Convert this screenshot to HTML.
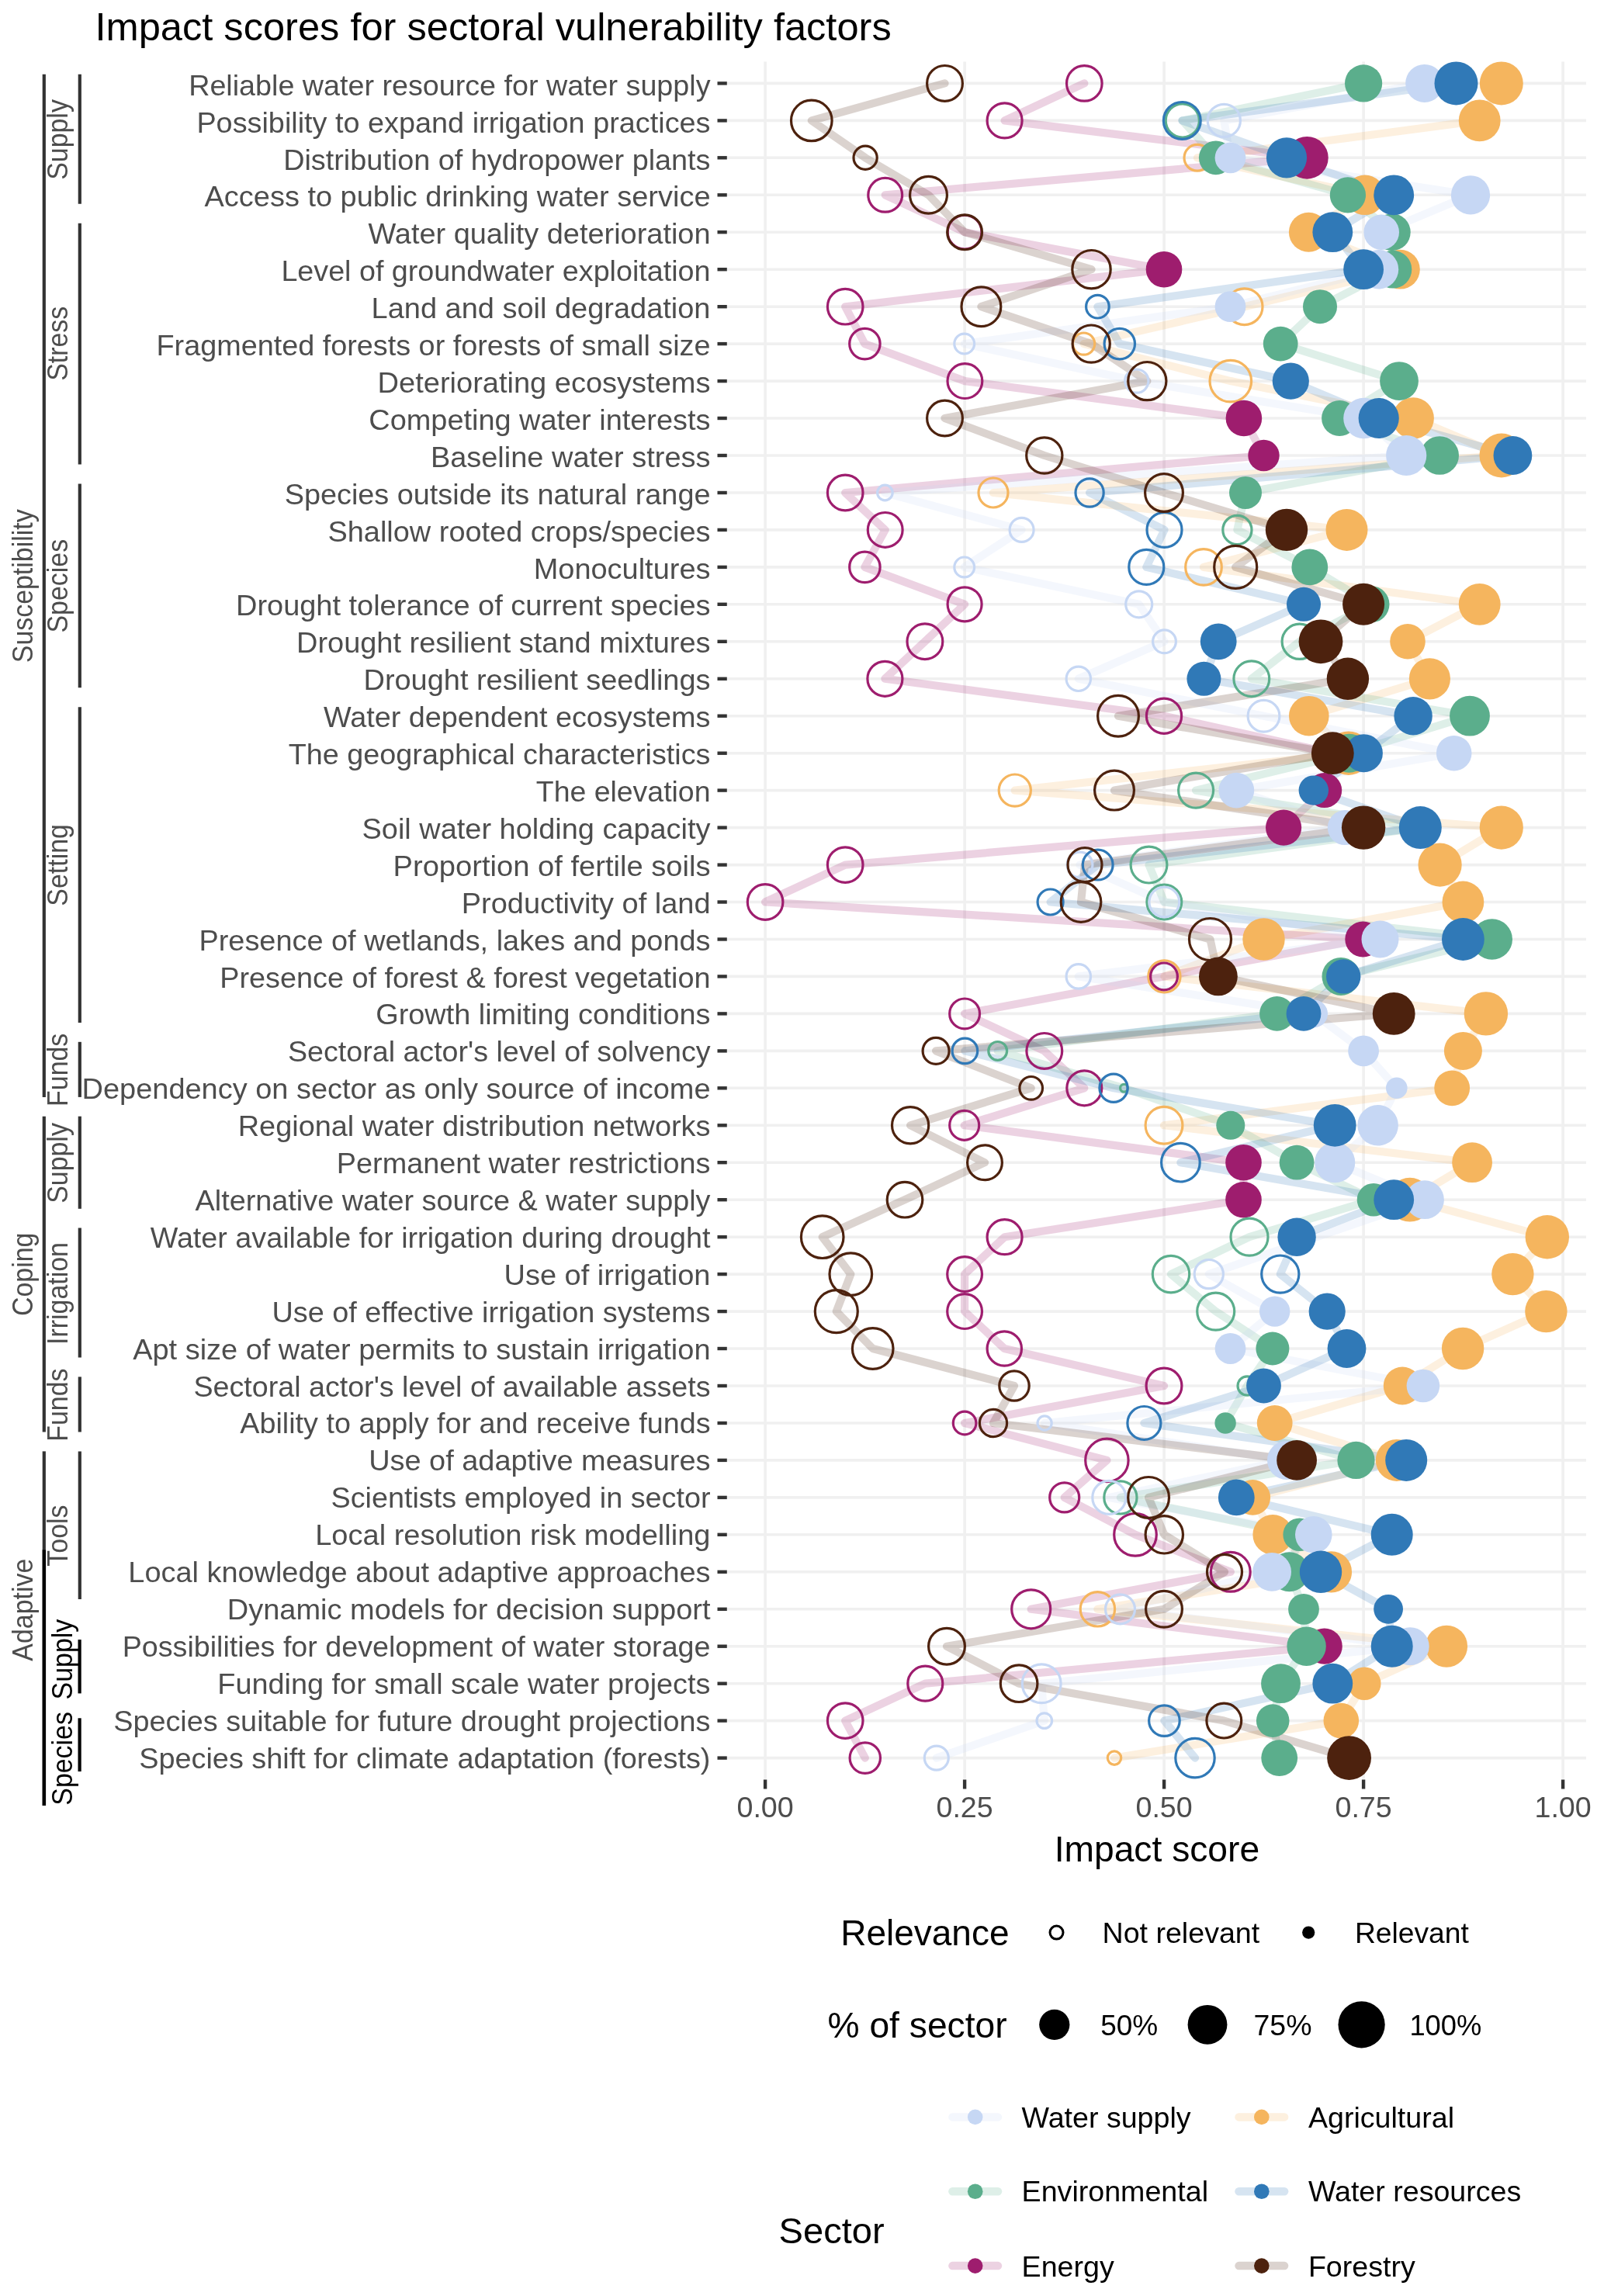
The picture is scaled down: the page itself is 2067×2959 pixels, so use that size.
<!DOCTYPE html>
<html><head><meta charset="utf-8"><title>Impact scores for sectoral vulnerability factors</title>
<style>html,body{margin:0;padding:0;background:#fff}body{width:2067px;height:2959px;overflow:hidden}svg{display:block;will-change:transform}text{font-family:"Liberation Sans",sans-serif}</style></head><body>
<svg width="2067" height="2959" viewBox="0 0 2067 2959">
<rect width="2067" height="2959" fill="#fff"/>
<text x="122.5" y="52.4" font-size="50.4" fill="#000" textLength="1026.2" lengthAdjust="spacingAndGlyphs">Impact scores for sectoral vulnerability factors</text>
<g stroke="#f0f0f0" stroke-width="3.6">
<line x1="937" x2="2044" y1="107.4" y2="107.4"/>
<line x1="937" x2="2044" y1="155.4" y2="155.4"/>
<line x1="937" x2="2044" y1="203.3" y2="203.3"/>
<line x1="937" x2="2044" y1="251.3" y2="251.3"/>
<line x1="937" x2="2044" y1="299.2" y2="299.2"/>
<line x1="937" x2="2044" y1="347.2" y2="347.2"/>
<line x1="937" x2="2044" y1="395.2" y2="395.2"/>
<line x1="937" x2="2044" y1="443.1" y2="443.1"/>
<line x1="937" x2="2044" y1="491.1" y2="491.1"/>
<line x1="937" x2="2044" y1="539.0" y2="539.0"/>
<line x1="937" x2="2044" y1="587.0" y2="587.0"/>
<line x1="937" x2="2044" y1="635.0" y2="635.0"/>
<line x1="937" x2="2044" y1="682.9" y2="682.9"/>
<line x1="937" x2="2044" y1="730.9" y2="730.9"/>
<line x1="937" x2="2044" y1="778.8" y2="778.8"/>
<line x1="937" x2="2044" y1="826.8" y2="826.8"/>
<line x1="937" x2="2044" y1="874.8" y2="874.8"/>
<line x1="937" x2="2044" y1="922.7" y2="922.7"/>
<line x1="937" x2="2044" y1="970.7" y2="970.7"/>
<line x1="937" x2="2044" y1="1018.6" y2="1018.6"/>
<line x1="937" x2="2044" y1="1066.6" y2="1066.6"/>
<line x1="937" x2="2044" y1="1114.6" y2="1114.6"/>
<line x1="937" x2="2044" y1="1162.5" y2="1162.5"/>
<line x1="937" x2="2044" y1="1210.5" y2="1210.5"/>
<line x1="937" x2="2044" y1="1258.4" y2="1258.4"/>
<line x1="937" x2="2044" y1="1306.4" y2="1306.4"/>
<line x1="937" x2="2044" y1="1354.4" y2="1354.4"/>
<line x1="937" x2="2044" y1="1402.3" y2="1402.3"/>
<line x1="937" x2="2044" y1="1450.3" y2="1450.3"/>
<line x1="937" x2="2044" y1="1498.2" y2="1498.2"/>
<line x1="937" x2="2044" y1="1546.2" y2="1546.2"/>
<line x1="937" x2="2044" y1="1594.2" y2="1594.2"/>
<line x1="937" x2="2044" y1="1642.1" y2="1642.1"/>
<line x1="937" x2="2044" y1="1690.1" y2="1690.1"/>
<line x1="937" x2="2044" y1="1738.0" y2="1738.0"/>
<line x1="937" x2="2044" y1="1786.0" y2="1786.0"/>
<line x1="937" x2="2044" y1="1834.0" y2="1834.0"/>
<line x1="937" x2="2044" y1="1881.9" y2="1881.9"/>
<line x1="937" x2="2044" y1="1929.9" y2="1929.9"/>
<line x1="937" x2="2044" y1="1977.8" y2="1977.8"/>
<line x1="937" x2="2044" y1="2025.8" y2="2025.8"/>
<line x1="937" x2="2044" y1="2073.8" y2="2073.8"/>
<line x1="937" x2="2044" y1="2121.7" y2="2121.7"/>
<line x1="937" x2="2044" y1="2169.7" y2="2169.7"/>
<line x1="937" x2="2044" y1="2217.6" y2="2217.6"/>
<line x1="937" x2="2044" y1="2265.6" y2="2265.6"/>
<line x1="986.1" x2="986.1" y1="79.5" y2="2292.5"/>
<line x1="1243.1" x2="1243.1" y1="79.5" y2="2292.5"/>
<line x1="1500.1" x2="1500.1" y1="79.5" y2="2292.5"/>
<line x1="1757.1" x2="1757.1" y1="79.5" y2="2292.5"/>
<line x1="2014.1" x2="2014.1" y1="79.5" y2="2292.5"/>
</g>
<g stroke="#333" stroke-width="4.4">
<line x1="924.5" x2="936.8" y1="107.4" y2="107.4"/>
<line x1="924.5" x2="936.8" y1="155.4" y2="155.4"/>
<line x1="924.5" x2="936.8" y1="203.3" y2="203.3"/>
<line x1="924.5" x2="936.8" y1="251.3" y2="251.3"/>
<line x1="924.5" x2="936.8" y1="299.2" y2="299.2"/>
<line x1="924.5" x2="936.8" y1="347.2" y2="347.2"/>
<line x1="924.5" x2="936.8" y1="395.2" y2="395.2"/>
<line x1="924.5" x2="936.8" y1="443.1" y2="443.1"/>
<line x1="924.5" x2="936.8" y1="491.1" y2="491.1"/>
<line x1="924.5" x2="936.8" y1="539.0" y2="539.0"/>
<line x1="924.5" x2="936.8" y1="587.0" y2="587.0"/>
<line x1="924.5" x2="936.8" y1="635.0" y2="635.0"/>
<line x1="924.5" x2="936.8" y1="682.9" y2="682.9"/>
<line x1="924.5" x2="936.8" y1="730.9" y2="730.9"/>
<line x1="924.5" x2="936.8" y1="778.8" y2="778.8"/>
<line x1="924.5" x2="936.8" y1="826.8" y2="826.8"/>
<line x1="924.5" x2="936.8" y1="874.8" y2="874.8"/>
<line x1="924.5" x2="936.8" y1="922.7" y2="922.7"/>
<line x1="924.5" x2="936.8" y1="970.7" y2="970.7"/>
<line x1="924.5" x2="936.8" y1="1018.6" y2="1018.6"/>
<line x1="924.5" x2="936.8" y1="1066.6" y2="1066.6"/>
<line x1="924.5" x2="936.8" y1="1114.6" y2="1114.6"/>
<line x1="924.5" x2="936.8" y1="1162.5" y2="1162.5"/>
<line x1="924.5" x2="936.8" y1="1210.5" y2="1210.5"/>
<line x1="924.5" x2="936.8" y1="1258.4" y2="1258.4"/>
<line x1="924.5" x2="936.8" y1="1306.4" y2="1306.4"/>
<line x1="924.5" x2="936.8" y1="1354.4" y2="1354.4"/>
<line x1="924.5" x2="936.8" y1="1402.3" y2="1402.3"/>
<line x1="924.5" x2="936.8" y1="1450.3" y2="1450.3"/>
<line x1="924.5" x2="936.8" y1="1498.2" y2="1498.2"/>
<line x1="924.5" x2="936.8" y1="1546.2" y2="1546.2"/>
<line x1="924.5" x2="936.8" y1="1594.2" y2="1594.2"/>
<line x1="924.5" x2="936.8" y1="1642.1" y2="1642.1"/>
<line x1="924.5" x2="936.8" y1="1690.1" y2="1690.1"/>
<line x1="924.5" x2="936.8" y1="1738.0" y2="1738.0"/>
<line x1="924.5" x2="936.8" y1="1786.0" y2="1786.0"/>
<line x1="924.5" x2="936.8" y1="1834.0" y2="1834.0"/>
<line x1="924.5" x2="936.8" y1="1881.9" y2="1881.9"/>
<line x1="924.5" x2="936.8" y1="1929.9" y2="1929.9"/>
<line x1="924.5" x2="936.8" y1="1977.8" y2="1977.8"/>
<line x1="924.5" x2="936.8" y1="2025.8" y2="2025.8"/>
<line x1="924.5" x2="936.8" y1="2073.8" y2="2073.8"/>
<line x1="924.5" x2="936.8" y1="2121.7" y2="2121.7"/>
<line x1="924.5" x2="936.8" y1="2169.7" y2="2169.7"/>
<line x1="924.5" x2="936.8" y1="2217.6" y2="2217.6"/>
<line x1="924.5" x2="936.8" y1="2265.6" y2="2265.6"/>
<line x1="986.1" x2="986.1" y1="2293.5" y2="2305.5"/>
<line x1="1243.1" x2="1243.1" y1="2293.5" y2="2305.5"/>
<line x1="1500.1" x2="1500.1" y1="2293.5" y2="2305.5"/>
<line x1="1757.1" x2="1757.1" y1="2293.5" y2="2305.5"/>
<line x1="2014.1" x2="2014.1" y1="2293.5" y2="2305.5"/>
</g>
<g font-size="37.1" fill="#4d4d4d" text-anchor="end">
<text x="915.5" y="122.7" textLength="672.3" lengthAdjust="spacingAndGlyphs">Reliable water resource for water supply</text>
<text x="915.5" y="170.6" textLength="662.1" lengthAdjust="spacingAndGlyphs">Possibility to expand irrigation practices</text>
<text x="915.5" y="218.5" textLength="550.3" lengthAdjust="spacingAndGlyphs">Distribution of hydropower plants</text>
<text x="915.5" y="266.4" textLength="652.0" lengthAdjust="spacingAndGlyphs">Access to public drinking water service</text>
<text x="915.5" y="314.3" textLength="441.0" lengthAdjust="spacingAndGlyphs">Water quality deterioration</text>
<text x="915.5" y="362.2" textLength="553.1" lengthAdjust="spacingAndGlyphs">Level of groundwater exploitation</text>
<text x="915.5" y="410.1" textLength="436.9" lengthAdjust="spacingAndGlyphs">Land and soil degradation</text>
<text x="915.5" y="458.1" textLength="714.0" lengthAdjust="spacingAndGlyphs">Fragmented forests or forests of small size</text>
<text x="915.5" y="506.0" textLength="428.9" lengthAdjust="spacingAndGlyphs">Deteriorating ecosystems</text>
<text x="915.5" y="553.9" textLength="440.2" lengthAdjust="spacingAndGlyphs">Competing water interests</text>
<text x="915.5" y="601.8" textLength="360.6" lengthAdjust="spacingAndGlyphs">Baseline water stress</text>
<text x="915.5" y="649.7" textLength="548.8" lengthAdjust="spacingAndGlyphs">Species outside its natural range</text>
<text x="915.5" y="697.6" textLength="493.0" lengthAdjust="spacingAndGlyphs">Shallow rooted crops/species</text>
<text x="915.5" y="745.5" textLength="227.8" lengthAdjust="spacingAndGlyphs">Monocultures</text>
<text x="915.5" y="793.4" textLength="611.5" lengthAdjust="spacingAndGlyphs">Drought tolerance of current species</text>
<text x="915.5" y="841.3" textLength="533.5" lengthAdjust="spacingAndGlyphs">Drought resilient stand mixtures</text>
<text x="915.5" y="889.2" textLength="447.0" lengthAdjust="spacingAndGlyphs">Drought resilient seedlings</text>
<text x="915.5" y="937.1" textLength="498.6" lengthAdjust="spacingAndGlyphs">Water dependent ecosystems</text>
<text x="915.5" y="985.0" textLength="543.8" lengthAdjust="spacingAndGlyphs">The geographical characteristics</text>
<text x="915.5" y="1032.9" textLength="224.7" lengthAdjust="spacingAndGlyphs">The elevation</text>
<text x="915.5" y="1080.9" textLength="449.0" lengthAdjust="spacingAndGlyphs">Soil water holding capacity</text>
<text x="915.5" y="1128.8" textLength="409.0" lengthAdjust="spacingAndGlyphs">Proportion of fertile soils</text>
<text x="915.5" y="1176.7" textLength="320.7" lengthAdjust="spacingAndGlyphs">Productivity of land</text>
<text x="915.5" y="1224.6" textLength="659.0" lengthAdjust="spacingAndGlyphs">Presence of wetlands, lakes and ponds</text>
<text x="915.5" y="1272.5" textLength="632.2" lengthAdjust="spacingAndGlyphs">Presence of forest &amp; forest vegetation</text>
<text x="915.5" y="1320.4" textLength="431.3" lengthAdjust="spacingAndGlyphs">Growth limiting conditions</text>
<text x="915.5" y="1368.3" textLength="544.5" lengthAdjust="spacingAndGlyphs">Sectoral actor's level of solvency</text>
<text x="915.5" y="1416.2" textLength="809.9" lengthAdjust="spacingAndGlyphs">Dependency on sector as only source of income</text>
<text x="915.5" y="1464.1" textLength="608.8" lengthAdjust="spacingAndGlyphs">Regional water distribution networks</text>
<text x="915.5" y="1512.0" textLength="481.7" lengthAdjust="spacingAndGlyphs">Permanent water restrictions</text>
<text x="915.5" y="1559.9" textLength="663.9" lengthAdjust="spacingAndGlyphs">Alternative water source &amp; water supply</text>
<text x="915.5" y="1607.8" textLength="721.8" lengthAdjust="spacingAndGlyphs">Water available for irrigation during drought</text>
<text x="915.5" y="1655.7" textLength="266.0" lengthAdjust="spacingAndGlyphs">Use of irrigation</text>
<text x="915.5" y="1703.7" textLength="565.0" lengthAdjust="spacingAndGlyphs">Use of effective irrigation systems</text>
<text x="915.5" y="1751.6" textLength="744.3" lengthAdjust="spacingAndGlyphs">Apt size of water permits to sustain irrigation</text>
<text x="915.5" y="1799.5" textLength="666.0" lengthAdjust="spacingAndGlyphs">Sectoral actor's level of available assets</text>
<text x="915.5" y="1847.4" textLength="606.2" lengthAdjust="spacingAndGlyphs">Ability to apply for and receive funds</text>
<text x="915.5" y="1895.3" textLength="440.3" lengthAdjust="spacingAndGlyphs">Use of adaptive measures</text>
<text x="915.5" y="1943.2" textLength="489.0" lengthAdjust="spacingAndGlyphs">Scientists employed in sector</text>
<text x="915.5" y="1991.1" textLength="509.3" lengthAdjust="spacingAndGlyphs">Local resolution risk modelling</text>
<text x="915.5" y="2039.0" textLength="750.2" lengthAdjust="spacingAndGlyphs">Local knowledge about adaptive approaches</text>
<text x="915.5" y="2086.9" textLength="622.7" lengthAdjust="spacingAndGlyphs">Dynamic models for decision support</text>
<text x="915.5" y="2134.8" textLength="757.8" lengthAdjust="spacingAndGlyphs">Possibilities for development of water storage</text>
<text x="915.5" y="2182.7" textLength="635.2" lengthAdjust="spacingAndGlyphs">Funding for small scale water projects</text>
<text x="915.5" y="2230.6" textLength="769.3" lengthAdjust="spacingAndGlyphs">Species suitable for future drought projections</text>
<text x="915.5" y="2278.5" textLength="736.3" lengthAdjust="spacingAndGlyphs">Species shift for climate adaptation (forests)</text>
</g>
<g font-size="37.1" fill="#4d4d4d" text-anchor="middle" textLength="73.2" lengthAdjust="spacingAndGlyphs">
<text x="986.1" y="2342.3" textLength="73.2" lengthAdjust="spacingAndGlyphs">0.00</text>
<text x="1243.1" y="2342.3" textLength="73.2" lengthAdjust="spacingAndGlyphs">0.25</text>
<text x="1500.1" y="2342.3" textLength="73.2" lengthAdjust="spacingAndGlyphs">0.50</text>
<text x="1757.1" y="2342.3" textLength="73.2" lengthAdjust="spacingAndGlyphs">0.75</text>
<text x="2014.1" y="2342.3" textLength="73.2" lengthAdjust="spacingAndGlyphs">1.00</text>
</g>
<text x="1490.9" y="2398.7" font-size="45.6" fill="#000" text-anchor="middle" textLength="264.5" lengthAdjust="spacingAndGlyphs">Impact score</text>
<g fill="none" stroke-width="10.2" stroke-linecap="round" stroke-linejoin="round" stroke-opacity="0.2">
<polyline stroke="#f5b55e" points="1934.8,107.4 1906.7,155.4 1542.9,203.3 1758.9,251.3 1686.4,299.2 1804.4,347.2 1603.6,395.2 1396.6,443.1 1585.8,491.1 1821.1,539.0 1934.9,587.0 1280.0,635.0 1735.5,682.9 1551.0,730.9 1906.7,778.8 1814.0,826.8 1842.4,874.8 1686.8,922.7 1737.8,970.7 1307.8,1018.6 1934.8,1066.6 1855.6,1114.6 1885.4,1162.5 1628.5,1210.5 1500.4,1258.4 1914.9,1306.4 1885.4,1354.4 1871.2,1402.3 1500.0,1450.3 1897.1,1498.2 1816.8,1546.2 1993.8,1594.2 1949.4,1642.1 1992.4,1690.1 1885.1,1738.0 1807.2,1786.0 1642.7,1834.0 1799.8,1881.9 1614.3,1929.9 1640.2,1977.8 1715.5,2025.8 1414.4,2073.8 1864.1,2121.7 1758.2,2169.7 1728.3,2217.6 1436.0,2265.6"/>
<polyline stroke="#9e1d6e" points="1397.3,107.4 1294.6,155.4 1684.3,203.3 1140.7,251.3 1243.1,299.2 1500.0,347.2 1089.2,395.2 1114.4,443.1 1243.4,491.1 1602.9,539.0 1628.5,587.0 1089.2,635.0 1140.7,682.9 1114.4,730.9 1243.1,778.8 1191.9,826.8 1140.4,874.8 1500.0,922.7 1717.0,970.7 1706.7,1018.6 1654.1,1066.6 1089.2,1114.6 986.1,1162.5 1756.4,1210.5 1500.0,1258.4 1243.1,1306.4 1345.8,1354.4 1397.3,1402.3 1242.7,1450.3 1602.5,1498.2 1602.5,1546.2 1294.6,1594.2 1243.1,1642.1 1243.1,1690.1 1294.3,1738.0 1500.0,1786.0 1243.1,1834.0 1426.4,1881.9 1371.7,1929.9 1463.0,1977.8 1585.8,2025.8 1328.7,2073.8 1706.7,2121.7 1192.3,2169.7 1089.2,2217.6 1114.8,2265.6"/>
<polyline stroke="#5bae8c" points="1757.1,107.4 1523.8,155.4 1566.8,203.3 1736.9,251.3 1793.7,299.2 1794.9,347.2 1701.0,395.2 1650.2,443.1 1803.0,491.1 1726.2,539.0 1855.2,587.0 1605.0,635.0 1594.4,682.9 1687.8,730.9 1767.0,778.8 1674.7,826.8 1612.8,874.8 1894.0,922.7 1738.6,970.7 1541.1,1018.6 1830.3,1066.6 1480.5,1114.6 1500.3,1162.5 1922.7,1210.5 1728.0,1258.4 1645.5,1306.4 1285.7,1354.4 1448.5,1402.3 1585.8,1450.3 1671.1,1498.2 1770.0,1546.2 1610.0,1594.2 1509.0,1642.1 1566.7,1690.1 1639.9,1738.0 1607.1,1786.0 1579.1,1834.0 1747.5,1881.9 1443.9,1929.9 1674.7,1977.8 1661.5,2025.8 1680.0,2073.8 1683.6,2121.7 1650.5,2169.7 1640.2,2217.6 1648.7,2265.6"/>
<polyline stroke="#c6d7f4" points="1835.7,107.4 1577.3,155.4 1585.5,203.3 1895.0,251.3 1780.2,299.2 1777.0,347.2 1585.5,395.2 1242.7,443.1 1464.8,491.1 1757.5,539.0 1812.2,587.0 1140.4,635.0 1316.6,682.9 1242.7,730.9 1467.7,778.8 1500.5,826.8 1389.8,874.8 1628.5,922.7 1873.7,970.7 1593.3,1018.6 1733.3,1066.6 1391.5,1114.6 1500.3,1162.5 1778.5,1210.5 1389.8,1258.4 1693.0,1306.4 1757.1,1354.4 1799.8,1402.3 1775.6,1450.3 1720.2,1498.2 1836.0,1546.2 1557.8,1642.1 1642.7,1690.1 1585.5,1738.0 1833.9,1786.0 1346.1,1834.0 1658.0,1881.9 1429.3,1929.9 1692.8,1977.8 1639.1,2025.8 1443.5,2073.8 1817.2,2121.7 1342.2,2169.7 1345.8,2217.6 1206.8,2265.6"/>
<polyline stroke="#3079b7" points="1876.5,107.4 1523.3,155.4 1658.0,203.3 1796.2,251.3 1717.3,299.2 1757.1,347.2 1414.4,395.2 1442.8,443.1 1663.3,491.1 1776.7,539.0 1949.4,587.0 1404.1,635.0 1500.5,682.9 1477.3,730.9 1680.0,778.8 1570.2,826.8 1551.4,874.8 1821.1,922.7 1757.4,970.7 1692.8,1018.6 1830.3,1066.6 1414.7,1114.6 1353.6,1162.5 1885.4,1210.5 1731.2,1258.4 1680.0,1306.4 1243.4,1354.4 1435.0,1402.3 1720.2,1450.3 1521.4,1498.2 1796.2,1546.2 1671.1,1594.2 1649.8,1642.1 1710.2,1690.1 1735.5,1738.0 1628.5,1786.0 1474.4,1834.0 1812.2,1881.9 1593.3,1929.9 1793.7,1977.8 1702.0,2025.8 1789.1,2073.8 1793.7,2121.7 1717.3,2169.7 1500.4,2217.6 1540.0,2265.6"/>
<polyline stroke="#4d220e" points="1217.5,107.4 1045.8,155.4 1115.1,203.3 1196.5,251.3 1243.1,299.2 1406.5,347.2 1264.4,395.2 1406.2,443.1 1478.3,491.1 1217.5,539.0 1345.8,587.0 1500.0,635.0 1658.0,682.9 1592.2,730.9 1757.1,778.8 1702.0,826.8 1736.9,874.8 1441.0,922.7 1717.3,970.7 1436.0,1018.6 1757.1,1066.6 1398.0,1114.6 1393.0,1162.5 1559.5,1210.5 1569.9,1258.4 1796.2,1306.4 1206.1,1354.4 1328.7,1402.3 1173.1,1450.3 1269.0,1498.2 1166.0,1546.2 1059.7,1594.2 1096.3,1642.1 1077.8,1690.1 1124.7,1738.0 1307.0,1786.0 1280.0,1834.0 1671.1,1881.9 1480.1,1929.9 1500.3,1977.8 1578.0,2025.8 1500.0,2073.8 1220.0,2121.7 1313.1,2169.7 1577.3,2217.6 1738.6,2265.6"/>
</g>
<g fill="#f5b55e" stroke="none">
<circle cx="1934.8" cy="107.4" r="28.0"/>
<circle cx="1906.7" cy="155.4" r="26.9"/>
<circle cx="1758.9" cy="251.3" r="25.8"/>
<circle cx="1686.4" cy="299.2" r="25.5"/>
<circle cx="1804.4" cy="347.2" r="25.4"/>
<circle cx="1821.1" cy="539.0" r="26.8"/>
<circle cx="1934.9" cy="587.0" r="28.4"/>
<circle cx="1735.5" cy="682.9" r="27.0"/>
<circle cx="1906.7" cy="778.8" r="26.9"/>
<circle cx="1814.0" cy="826.8" r="22.8"/>
<circle cx="1842.4" cy="874.8" r="26.6"/>
<circle cx="1686.8" cy="922.7" r="25.8"/>
<circle cx="1737.8" cy="970.7" r="28.3"/>
<circle cx="1934.8" cy="1066.6" r="28.1"/>
<circle cx="1855.6" cy="1114.6" r="28.1"/>
<circle cx="1885.4" cy="1162.5" r="26.9"/>
<circle cx="1628.5" cy="1210.5" r="27.2"/>
<circle cx="1914.9" cy="1306.4" r="28.2"/>
<circle cx="1885.4" cy="1354.4" r="24.5"/>
<circle cx="1871.2" cy="1402.3" r="22.9"/>
<circle cx="1897.1" cy="1498.2" r="25.9"/>
<circle cx="1816.8" cy="1546.2" r="28.4"/>
<circle cx="1993.8" cy="1594.2" r="28.2"/>
<circle cx="1949.4" cy="1642.1" r="27.2"/>
<circle cx="1992.4" cy="1690.1" r="27.2"/>
<circle cx="1885.1" cy="1738.0" r="27.2"/>
<circle cx="1807.2" cy="1786.0" r="24.4"/>
<circle cx="1642.7" cy="1834.0" r="22.9"/>
<circle cx="1799.8" cy="1881.9" r="27.0"/>
<circle cx="1614.3" cy="1929.9" r="22.8"/>
<circle cx="1640.2" cy="1977.8" r="25.8"/>
<circle cx="1715.5" cy="2025.8" r="26.6"/>
<circle cx="1864.1" cy="2121.7" r="27.0"/>
<circle cx="1758.2" cy="2169.7" r="21.3"/>
<circle cx="1728.3" cy="2217.6" r="22.8"/>
</g>
<g fill="none" stroke="#f5b55e" stroke-width="3.2">
<circle cx="1542.9" cy="203.3" r="16.9"/>
<circle cx="1603.6" cy="395.2" r="23.4"/>
<circle cx="1396.6" cy="443.1" r="14.1"/>
<circle cx="1585.8" cy="491.1" r="26.8"/>
<circle cx="1280.0" cy="635.0" r="19.0"/>
<circle cx="1551.0" cy="730.9" r="23.3"/>
<circle cx="1307.8" cy="1018.6" r="20.6"/>
<circle cx="1500.4" cy="1258.4" r="20.6"/>
<circle cx="1500.0" cy="1450.3" r="23.9"/>
<circle cx="1414.4" cy="2073.8" r="22.2"/>
<circle cx="1436.0" cy="2265.6" r="8.7"/>
</g>
<g fill="#9e1d6e" stroke="none">
<circle cx="1684.3" cy="203.3" r="27.4"/>
<circle cx="1500.0" cy="347.2" r="23.3"/>
<circle cx="1602.9" cy="539.0" r="23.3"/>
<circle cx="1628.5" cy="587.0" r="20.2"/>
<circle cx="1717.0" cy="970.7" r="23.0"/>
<circle cx="1706.7" cy="1018.6" r="22.5"/>
<circle cx="1654.1" cy="1066.6" r="23.1"/>
<circle cx="1756.4" cy="1210.5" r="23.1"/>
<circle cx="1602.5" cy="1498.2" r="23.3"/>
<circle cx="1602.5" cy="1546.2" r="23.3"/>
<circle cx="1706.7" cy="2121.7" r="23.1"/>
</g>
<g fill="none" stroke="#9e1d6e" stroke-width="3.2">
<circle cx="1397.3" cy="107.4" r="22.8"/>
<circle cx="1294.6" cy="155.4" r="22.5"/>
<circle cx="1140.7" cy="251.3" r="21.9"/>
<circle cx="1243.1" cy="299.2" r="21.9"/>
<circle cx="1089.2" cy="395.2" r="22.8"/>
<circle cx="1114.4" cy="443.1" r="19.7"/>
<circle cx="1243.4" cy="491.1" r="22.4"/>
<circle cx="1089.2" cy="635.0" r="22.8"/>
<circle cx="1140.7" cy="682.9" r="22.4"/>
<circle cx="1114.4" cy="730.9" r="19.7"/>
<circle cx="1243.1" cy="778.8" r="22.0"/>
<circle cx="1191.9" cy="826.8" r="22.9"/>
<circle cx="1140.4" cy="874.8" r="22.5"/>
<circle cx="1500.0" cy="922.7" r="22.6"/>
<circle cx="1089.2" cy="1114.6" r="22.8"/>
<circle cx="986.1" cy="1162.5" r="22.8"/>
<circle cx="1500.0" cy="1258.4" r="17.4"/>
<circle cx="1243.1" cy="1306.4" r="19.4"/>
<circle cx="1345.8" cy="1354.4" r="22.9"/>
<circle cx="1397.3" cy="1402.3" r="22.5"/>
<circle cx="1242.7" cy="1450.3" r="19.0"/>
<circle cx="1294.6" cy="1594.2" r="22.5"/>
<circle cx="1243.1" cy="1642.1" r="22.4"/>
<circle cx="1243.1" cy="1690.1" r="22.4"/>
<circle cx="1294.3" cy="1738.0" r="22.2"/>
<circle cx="1500.0" cy="1786.0" r="22.9"/>
<circle cx="1243.1" cy="1834.0" r="14.8"/>
<circle cx="1426.4" cy="1881.9" r="27.7"/>
<circle cx="1371.7" cy="1929.9" r="19.0"/>
<circle cx="1463.0" cy="1977.8" r="27.3"/>
<circle cx="1585.8" cy="2025.8" r="25.4"/>
<circle cx="1328.7" cy="2073.8" r="25.0"/>
<circle cx="1192.3" cy="2169.7" r="22.5"/>
<circle cx="1089.2" cy="2217.6" r="22.8"/>
<circle cx="1114.8" cy="2265.6" r="19.7"/>
</g>
<g fill="#5bae8c" stroke="none">
<circle cx="1757.1" cy="107.4" r="24.1"/>
<circle cx="1566.8" cy="203.3" r="21.9"/>
<circle cx="1736.9" cy="251.3" r="23.1"/>
<circle cx="1793.7" cy="299.2" r="24.0"/>
<circle cx="1794.9" cy="347.2" r="24.4"/>
<circle cx="1701.0" cy="395.2" r="22.0"/>
<circle cx="1650.2" cy="443.1" r="22.4"/>
<circle cx="1803.0" cy="491.1" r="24.9"/>
<circle cx="1726.2" cy="539.0" r="23.1"/>
<circle cx="1855.2" cy="587.0" r="24.8"/>
<circle cx="1605.0" cy="635.0" r="21.0"/>
<circle cx="1687.8" cy="730.9" r="23.4"/>
<circle cx="1767.0" cy="778.8" r="23.5"/>
<circle cx="1894.0" cy="922.7" r="25.9"/>
<circle cx="1738.6" cy="970.7" r="25.0"/>
<circle cx="1830.3" cy="1066.6" r="22.0"/>
<circle cx="1922.7" cy="1210.5" r="26.3"/>
<circle cx="1728.0" cy="1258.4" r="24.5"/>
<circle cx="1645.5" cy="1306.4" r="22.4"/>
<circle cx="1585.8" cy="1450.3" r="18.5"/>
<circle cx="1671.1" cy="1498.2" r="22.4"/>
<circle cx="1770.0" cy="1546.2" r="21.3"/>
<circle cx="1639.9" cy="1738.0" r="21.5"/>
<circle cx="1579.1" cy="1834.0" r="13.7"/>
<circle cx="1747.5" cy="1881.9" r="24.1"/>
<circle cx="1674.7" cy="1977.8" r="21.3"/>
<circle cx="1661.5" cy="2025.8" r="25.5"/>
<circle cx="1680.0" cy="2073.8" r="19.9"/>
<circle cx="1683.6" cy="2121.7" r="25.2"/>
<circle cx="1650.5" cy="2169.7" r="25.4"/>
<circle cx="1640.2" cy="2217.6" r="21.3"/>
<circle cx="1648.7" cy="2265.6" r="23.4"/>
</g>
<g fill="none" stroke="#5bae8c" stroke-width="3.2">
<circle cx="1523.8" cy="155.4" r="21.6"/>
<circle cx="1594.4" cy="682.9" r="18.6"/>
<circle cx="1674.7" cy="826.8" r="22.6"/>
<circle cx="1612.8" cy="874.8" r="22.9"/>
<circle cx="1541.1" cy="1018.6" r="22.5"/>
<circle cx="1480.5" cy="1114.6" r="23.4"/>
<circle cx="1500.3" cy="1162.5" r="22.4"/>
<circle cx="1285.7" cy="1354.4" r="11.9"/>
<circle cx="1448.5" cy="1402.3" r="4.9"/>
<circle cx="1610.0" cy="1594.2" r="24.0"/>
<circle cx="1509.0" cy="1642.1" r="23.7"/>
<circle cx="1566.7" cy="1690.1" r="24.0"/>
<circle cx="1607.1" cy="1786.0" r="12.1"/>
<circle cx="1443.9" cy="1929.9" r="21.1"/>
</g>
<g fill="#c6d7f4" stroke="none">
<circle cx="1835.7" cy="107.4" r="24.5"/>
<circle cx="1585.5" cy="203.3" r="19.9"/>
<circle cx="1895.0" cy="251.3" r="25.1"/>
<circle cx="1780.2" cy="299.2" r="22.8"/>
<circle cx="1777.0" cy="347.2" r="25.2"/>
<circle cx="1585.5" cy="395.2" r="19.9"/>
<circle cx="1757.5" cy="539.0" r="26.3"/>
<circle cx="1812.2" cy="587.0" r="26.1"/>
<circle cx="1873.7" cy="970.7" r="22.8"/>
<circle cx="1593.3" cy="1018.6" r="22.9"/>
<circle cx="1733.3" cy="1066.6" r="22.5"/>
<circle cx="1778.5" cy="1210.5" r="24.0"/>
<circle cx="1693.0" cy="1306.4" r="18.0"/>
<circle cx="1757.1" cy="1354.4" r="19.9"/>
<circle cx="1799.8" cy="1402.3" r="13.8"/>
<circle cx="1775.6" cy="1450.3" r="26.3"/>
<circle cx="1720.2" cy="1498.2" r="26.1"/>
<circle cx="1836.0" cy="1546.2" r="24.9"/>
<circle cx="1642.7" cy="1690.1" r="19.7"/>
<circle cx="1585.5" cy="1738.0" r="19.9"/>
<circle cx="1833.9" cy="1786.0" r="21.3"/>
<circle cx="1658.0" cy="1881.9" r="25.0"/>
<circle cx="1692.8" cy="1977.8" r="23.8"/>
<circle cx="1639.1" cy="2025.8" r="24.9"/>
<circle cx="1817.2" cy="2121.7" r="24.5"/>
</g>
<g fill="none" stroke="#c6d7f4" stroke-width="3.2">
<circle cx="1577.3" cy="155.4" r="21.1"/>
<circle cx="1242.7" cy="443.1" r="12.9"/>
<circle cx="1464.8" cy="491.1" r="15.1"/>
<circle cx="1140.4" cy="635.0" r="9.8"/>
<circle cx="1316.6" cy="682.9" r="15.5"/>
<circle cx="1242.7" cy="730.9" r="12.9"/>
<circle cx="1467.7" cy="778.8" r="17.0"/>
<circle cx="1500.5" cy="826.8" r="14.9"/>
<circle cx="1389.8" cy="874.8" r="15.7"/>
<circle cx="1628.5" cy="922.7" r="20.4"/>
<circle cx="1391.5" cy="1114.6" r="16.4"/>
<circle cx="1500.3" cy="1162.5" r="19.4"/>
<circle cx="1389.8" cy="1258.4" r="15.7"/>
<circle cx="1557.8" cy="1642.1" r="18.6"/>
<circle cx="1346.1" cy="1834.0" r="9.1"/>
<circle cx="1429.3" cy="1929.9" r="21.5"/>
<circle cx="1443.5" cy="2073.8" r="19.0"/>
<circle cx="1342.2" cy="2169.7" r="24.9"/>
<circle cx="1345.8" cy="2217.6" r="9.8"/>
<circle cx="1206.8" cy="2265.6" r="15.5"/>
</g>
<g fill="#3079b7" stroke="none">
<circle cx="1876.5" cy="107.4" r="28.0"/>
<circle cx="1658.0" cy="203.3" r="26.1"/>
<circle cx="1796.2" cy="251.3" r="25.9"/>
<circle cx="1717.3" cy="299.2" r="25.9"/>
<circle cx="1757.1" cy="347.2" r="25.9"/>
<circle cx="1663.3" cy="491.1" r="23.6"/>
<circle cx="1776.7" cy="539.0" r="26.1"/>
<circle cx="1949.4" cy="587.0" r="24.9"/>
<circle cx="1680.0" cy="778.8" r="22.0"/>
<circle cx="1570.2" cy="826.8" r="23.4"/>
<circle cx="1551.4" cy="874.8" r="22.0"/>
<circle cx="1821.1" cy="922.7" r="24.7"/>
<circle cx="1757.4" cy="970.7" r="24.5"/>
<circle cx="1692.8" cy="1018.6" r="19.2"/>
<circle cx="1830.3" cy="1066.6" r="27.5"/>
<circle cx="1885.4" cy="1210.5" r="27.4"/>
<circle cx="1731.2" cy="1258.4" r="22.2"/>
<circle cx="1680.0" cy="1306.4" r="22.4"/>
<circle cx="1720.2" cy="1450.3" r="27.4"/>
<circle cx="1796.2" cy="1546.2" r="25.9"/>
<circle cx="1671.1" cy="1594.2" r="24.7"/>
<circle cx="1710.2" cy="1690.1" r="23.6"/>
<circle cx="1735.5" cy="1738.0" r="24.9"/>
<circle cx="1628.5" cy="1786.0" r="22.4"/>
<circle cx="1812.2" cy="1881.9" r="27.0"/>
<circle cx="1593.3" cy="1929.9" r="23.4"/>
<circle cx="1793.7" cy="1977.8" r="27.0"/>
<circle cx="1702.0" cy="2025.8" r="27.2"/>
<circle cx="1789.1" cy="2073.8" r="18.9"/>
<circle cx="1793.7" cy="2121.7" r="27.0"/>
<circle cx="1717.3" cy="2169.7" r="25.9"/>
</g>
<g fill="none" stroke="#3079b7" stroke-width="3.2">
<circle cx="1523.3" cy="155.4" r="23.9"/>
<circle cx="1414.4" cy="395.2" r="14.8"/>
<circle cx="1442.8" cy="443.1" r="19.7"/>
<circle cx="1404.1" cy="635.0" r="18.1"/>
<circle cx="1500.5" cy="682.9" r="22.5"/>
<circle cx="1477.3" cy="730.9" r="22.5"/>
<circle cx="1414.7" cy="1114.6" r="19.4"/>
<circle cx="1353.6" cy="1162.5" r="16.5"/>
<circle cx="1243.4" cy="1354.4" r="16.3"/>
<circle cx="1435.0" cy="1402.3" r="18.1"/>
<circle cx="1521.4" cy="1498.2" r="24.8"/>
<circle cx="1649.8" cy="1642.1" r="24.1"/>
<circle cx="1474.4" cy="1834.0" r="21.5"/>
<circle cx="1500.4" cy="2217.6" r="19.8"/>
<circle cx="1540.0" cy="2265.6" r="25.2"/>
</g>
<g fill="#4d220e" stroke="none">
<circle cx="1658.0" cy="682.9" r="27.2"/>
<circle cx="1757.1" cy="778.8" r="27.0"/>
<circle cx="1702.0" cy="826.8" r="28.4"/>
<circle cx="1736.9" cy="874.8" r="27.2"/>
<circle cx="1717.3" cy="970.7" r="27.4"/>
<circle cx="1757.1" cy="1066.6" r="28.2"/>
<circle cx="1569.9" cy="1258.4" r="24.9"/>
<circle cx="1796.2" cy="1306.4" r="27.4"/>
<circle cx="1671.1" cy="1881.9" r="25.9"/>
<circle cx="1738.6" cy="2265.6" r="28.4"/>
</g>
<g fill="none" stroke="#4d220e" stroke-width="3.2">
<circle cx="1217.5" cy="107.4" r="22.9"/>
<circle cx="1045.8" cy="155.4" r="26.3"/>
<circle cx="1115.1" cy="203.3" r="15.1"/>
<circle cx="1196.5" cy="251.3" r="23.9"/>
<circle cx="1243.1" cy="299.2" r="22.4"/>
<circle cx="1406.5" cy="347.2" r="24.7"/>
<circle cx="1264.4" cy="395.2" r="25.4"/>
<circle cx="1406.2" cy="443.1" r="24.1"/>
<circle cx="1478.3" cy="491.1" r="24.6"/>
<circle cx="1217.5" cy="539.0" r="22.9"/>
<circle cx="1345.8" cy="587.0" r="23.1"/>
<circle cx="1500.0" cy="635.0" r="24.4"/>
<circle cx="1592.2" cy="730.9" r="27.5"/>
<circle cx="1441.0" cy="922.7" r="26.4"/>
<circle cx="1436.0" cy="1018.6" r="25.4"/>
<circle cx="1398.0" cy="1114.6" r="22.0"/>
<circle cx="1393.0" cy="1162.5" r="25.8"/>
<circle cx="1559.5" cy="1210.5" r="27.0"/>
<circle cx="1206.1" cy="1354.4" r="17.0"/>
<circle cx="1328.7" cy="1402.3" r="14.8"/>
<circle cx="1173.1" cy="1450.3" r="23.6"/>
<circle cx="1269.0" cy="1498.2" r="22.4"/>
<circle cx="1166.0" cy="1546.2" r="22.8"/>
<circle cx="1059.7" cy="1594.2" r="27.3"/>
<circle cx="1096.3" cy="1642.1" r="27.3"/>
<circle cx="1077.8" cy="1690.1" r="27.5"/>
<circle cx="1124.7" cy="1738.0" r="26.3"/>
<circle cx="1307.0" cy="1786.0" r="19.2"/>
<circle cx="1280.0" cy="1834.0" r="17.6"/>
<circle cx="1480.1" cy="1929.9" r="26.4"/>
<circle cx="1500.3" cy="1977.8" r="24.2"/>
<circle cx="1578.0" cy="2025.8" r="22.5"/>
<circle cx="1500.0" cy="2073.8" r="23.4"/>
<circle cx="1220.0" cy="2121.7" r="23.4"/>
<circle cx="1313.1" cy="2169.7" r="23.8"/>
<circle cx="1577.3" cy="2217.6" r="22.4"/>
</g>
<line x1="102.8" x2="102.8" y1="95.8" y2="262.8" stroke="#333" stroke-width="4.2"/>
<text transform="translate(87.2,180.0) rotate(-90)" text-anchor="middle" font-size="36.0" fill="#4d4d4d" textLength="103.7" lengthAdjust="spacingAndGlyphs">Supply</text>
<line x1="102.8" x2="102.8" y1="287.7" y2="598.6" stroke="#333" stroke-width="4.2"/>
<text transform="translate(87.2,442.8) rotate(-90)" text-anchor="middle" font-size="36.0" fill="#4d4d4d" textLength="96.1" lengthAdjust="spacingAndGlyphs">Stress</text>
<line x1="102.8" x2="102.8" y1="623.4" y2="886.3" stroke="#333" stroke-width="4.2"/>
<text transform="translate(87.2,755.2) rotate(-90)" text-anchor="middle" font-size="36.0" fill="#4d4d4d" textLength="120.6" lengthAdjust="spacingAndGlyphs">Species</text>
<line x1="102.8" x2="102.8" y1="911.2" y2="1318.0" stroke="#333" stroke-width="4.2"/>
<text transform="translate(87.2,1114.9) rotate(-90)" text-anchor="middle" font-size="36.0" fill="#4d4d4d" textLength="105.5" lengthAdjust="spacingAndGlyphs">Setting</text>
<line x1="102.8" x2="102.8" y1="1342.8" y2="1413.9" stroke="#333" stroke-width="4.2"/>
<text transform="translate(87.2,1378.8) rotate(-90)" text-anchor="middle" font-size="36.0" fill="#4d4d4d" textLength="94.2" lengthAdjust="spacingAndGlyphs">Funds</text>
<line x1="102.8" x2="102.8" y1="1438.7" y2="1557.8" stroke="#333" stroke-width="4.2"/>
<text transform="translate(87.2,1499.0) rotate(-90)" text-anchor="middle" font-size="36.0" fill="#4d4d4d" textLength="103.7" lengthAdjust="spacingAndGlyphs">Supply</text>
<line x1="102.8" x2="102.8" y1="1582.6" y2="1749.6" stroke="#333" stroke-width="4.2"/>
<text transform="translate(87.2,1667.0) rotate(-90)" text-anchor="middle" font-size="36.0" fill="#4d4d4d" textLength="131.9" lengthAdjust="spacingAndGlyphs">Irrigation</text>
<line x1="102.8" x2="102.8" y1="1774.4" y2="1845.5" stroke="#333" stroke-width="4.2"/>
<text transform="translate(87.2,1810.6) rotate(-90)" text-anchor="middle" font-size="36.0" fill="#4d4d4d" textLength="94.2" lengthAdjust="spacingAndGlyphs">Funds</text>
<line x1="56.8" x2="56.8" y1="95.8" y2="1413.9" stroke="#333" stroke-width="4.2"/>
<text transform="translate(41.9,755.3) rotate(-90)" text-anchor="middle" font-size="36.0" fill="#4d4d4d" textLength="197.8" lengthAdjust="spacingAndGlyphs">Susceptibility</text>
<line x1="56.8" x2="56.8" y1="1438.7" y2="1845.5" stroke="#333" stroke-width="4.2"/>
<text transform="translate(41.9,1642.3) rotate(-90)" text-anchor="middle" font-size="36.0" fill="#4d4d4d" textLength="107.4" lengthAdjust="spacingAndGlyphs">Coping</text>
<line x1="56.8" x2="56.8" y1="1870.4" y2="1998.0" stroke="#333" stroke-width="4.2"/>
<line x1="56.8" x2="56.8" y1="1997.4" y2="2327.1" stroke="#000" stroke-width="4.6"/>
<text transform="translate(41.9,2074.7) rotate(-90)" text-anchor="middle" font-size="36.0" fill="#4d4d4d" textLength="131.9" lengthAdjust="spacingAndGlyphs">Adaptive</text>
<line x1="102.8" x2="102.8" y1="1870.4" y2="2060.9" stroke="#333" stroke-width="4.2"/>
<text transform="translate(87.2,1979.1) rotate(-90)" text-anchor="middle" font-size="36.0" fill="#4d4d4d" textLength="79.1" lengthAdjust="spacingAndGlyphs">Tools</text>
<line x1="102.6" x2="102.6" y1="2113.1" y2="2182.4" stroke="#000" stroke-width="4.2"/>
<text transform="translate(92.6,2138.6) rotate(-90)" text-anchor="middle" font-size="36.0" fill="#000" textLength="103.7" lengthAdjust="spacingAndGlyphs">Supply</text>
<line x1="102.6" x2="102.6" y1="2214.3" y2="2283.0" stroke="#000" stroke-width="4.2"/>
<text transform="translate(92.8,2266.4) rotate(-90)" text-anchor="middle" font-size="36.0" fill="#000" textLength="120.6" lengthAdjust="spacingAndGlyphs">Species</text>
<g font-size="45.5" fill="#000">
<text x="1083.2" y="2506.9" textLength="217.3" lengthAdjust="spacingAndGlyphs">Relevance</text>
<text x="1066.5" y="2626.2" textLength="231.1" lengthAdjust="spacingAndGlyphs">% of sector</text>
<text x="1003.6" y="2890.7" textLength="136" lengthAdjust="spacingAndGlyphs">Sector</text>
</g>
<circle cx="1361.5" cy="2490.6" r="8.5" fill="none" stroke="#000" stroke-width="3"/>
<circle cx="1686.2" cy="2490.6" r="8.1" fill="#000"/>
<text x="1420.5" y="2503.7" font-size="36.8" fill="#000" textLength="202.7" lengthAdjust="spacingAndGlyphs">Not relevant</text>
<text x="1745.9" y="2503.7" font-size="36.8" fill="#000" textLength="147.0" lengthAdjust="spacingAndGlyphs">Relevant</text>
<text x="1418.2" y="2622.5" font-size="36.8" fill="#000" textLength="74.0" lengthAdjust="spacingAndGlyphs">50%</text>
<text x="1615.5" y="2622.5" font-size="36.8" fill="#000" textLength="75.0" lengthAdjust="spacingAndGlyphs">75%</text>
<text x="1816.4" y="2622.5" font-size="36.8" fill="#000" textLength="92.8" lengthAdjust="spacingAndGlyphs">100%</text>
<circle cx="1358.8" cy="2609.3" r="19.6" fill="#000"/>
<circle cx="1556" cy="2609.3" r="25.4" fill="#000"/>
<circle cx="1754.6" cy="2609.3" r="30.1" fill="#000"/>
<line x1="1227.4" x2="1286.0" y1="2728.4" y2="2728.4" stroke="#c6d7f4" stroke-width="10.5" stroke-opacity="0.2" stroke-linecap="round"/>
<circle cx="1256.7" cy="2728.4" r="9.8" fill="#c6d7f4"/>
<text x="1316.6" y="2741.6" font-size="36.8" fill="#000" textLength="218.0" lengthAdjust="spacingAndGlyphs">Water supply</text>
<line x1="1227.4" x2="1286.0" y1="2824.2" y2="2824.2" stroke="#5bae8c" stroke-width="10.5" stroke-opacity="0.2" stroke-linecap="round"/>
<circle cx="1256.7" cy="2824.2" r="9.8" fill="#5bae8c"/>
<text x="1316.6" y="2837.4" font-size="36.8" fill="#000" textLength="240.4" lengthAdjust="spacingAndGlyphs">Environmental</text>
<line x1="1227.4" x2="1286.0" y1="2920.1" y2="2920.1" stroke="#9e1d6e" stroke-width="10.5" stroke-opacity="0.2" stroke-linecap="round"/>
<circle cx="1256.7" cy="2920.1" r="9.8" fill="#9e1d6e"/>
<text x="1316.6" y="2934.1" font-size="36.8" fill="#000" textLength="119.1" lengthAdjust="spacingAndGlyphs">Energy</text>
<line x1="1596.5" x2="1655.1" y1="2728.4" y2="2728.4" stroke="#f5b55e" stroke-width="10.5" stroke-opacity="0.2" stroke-linecap="round"/>
<circle cx="1625.8" cy="2728.4" r="9.8" fill="#f5b55e"/>
<text x="1685.9" y="2741.6" font-size="36.8" fill="#000" textLength="188.1" lengthAdjust="spacingAndGlyphs">Agricultural</text>
<line x1="1596.5" x2="1655.1" y1="2824.2" y2="2824.2" stroke="#3079b7" stroke-width="10.5" stroke-opacity="0.2" stroke-linecap="round"/>
<circle cx="1625.8" cy="2824.2" r="9.8" fill="#3079b7"/>
<text x="1685.9" y="2837.4" font-size="36.8" fill="#000" textLength="274.4" lengthAdjust="spacingAndGlyphs">Water resources</text>
<line x1="1596.5" x2="1655.1" y1="2920.1" y2="2920.1" stroke="#4d220e" stroke-width="10.5" stroke-opacity="0.2" stroke-linecap="round"/>
<circle cx="1625.8" cy="2920.1" r="9.8" fill="#4d220e"/>
<text x="1685.9" y="2934.1" font-size="36.8" fill="#000" textLength="137.9" lengthAdjust="spacingAndGlyphs">Forestry</text>
</svg></body></html>
